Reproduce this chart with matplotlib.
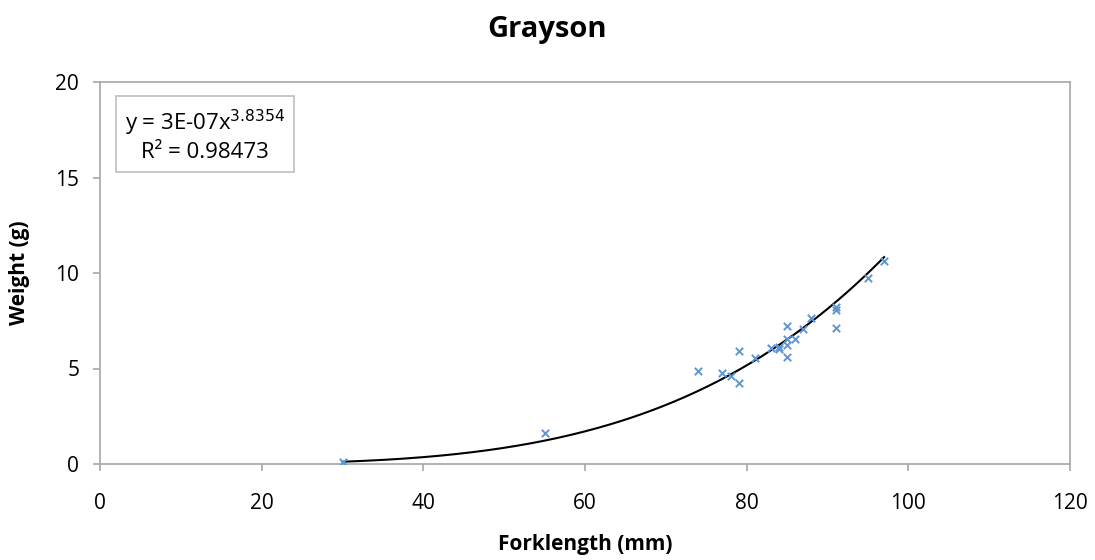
import matplotlib.pyplot as plt
import numpy as np

plt.rcParams['font.family'] = ['Open Sans', 'DejaVu Sans']

# forklength (mm) and weight (g)
forklength = [30, 55, 74, 77, 78, 79, 79, 81, 83, 84, 84, 85, 85, 85, 85,
              86, 87, 88, 91, 91, 91, 95, 97]
weight = [0.1, 1.6, 4.88, 4.75, 4.6, 4.22, 5.93, 5.53, 6.09, 6.14, 6.04,
          7.22, 6.53, 6.25, 5.62, 6.53, 7.05, 7.66, 8.24, 8.06, 7.1, 9.72, 10.64]

xticks = [0, 20, 40, 60, 80, 100, 120]
yticks = [0, 5, 10, 15, 20]

# power trendline, fitted like Excel does (log-log least squares)
b, lna = np.polyfit(np.log(forklength), np.log(weight), 1)
xf = np.linspace(min(forklength), max(forklength), 200)
yf = np.exp(lna) * xf ** b

fig = plt.figure(figsize=(10.95, 5.6), dpi=100)
ax = fig.add_axes([100 / 1095, 1 - 464 / 560, 970 / 1095, 382 / 560])

ax.plot(xf, yf, color='black', lw=1.5, zorder=2)
ax.scatter(forklength, weight, marker='x', color='#5E95D3', s=28, lw=1.4, zorder=3)

ax.set_xlim(0, 120)
ax.set_ylim(0, 20)
ax.set_xticks(xticks)
ax.set_yticks(yticks)
ax.tick_params(labelsize=15, colors='#000000', length=5, width=1.2)
ax.tick_params(axis='both', color='#A6A6A6')
ax.tick_params(axis='x', pad=16)
ax.tick_params(axis='y', pad=10)
for s in ax.spines.values():
    s.set_color('#A6A6A6')
    s.set_linewidth(1.2)

ax.set_xlabel('Forklength (mm)', fontsize=15, fontweight='bold', labelpad=14)
ax.set_ylabel('Weight (g)', fontsize=15, fontweight='bold', labelpad=18)
fig.text(0.5, 1 - 30 / 560, 'Grayson', ha='center', va='center',
         fontsize=21, fontweight='bold')

ax.text(0.108, 0.86, 'y = 3E-07x$^{3.8354}$\nR² = 0.98473', transform=ax.transAxes,
        ha='center', va='center', fontsize=16, linespacing=1.25,
        bbox=dict(boxstyle='square,pad=0.4', fc='white', ec='#BFBFBF', lw=1.2))

fig.savefig('out.png', dpi=100)
